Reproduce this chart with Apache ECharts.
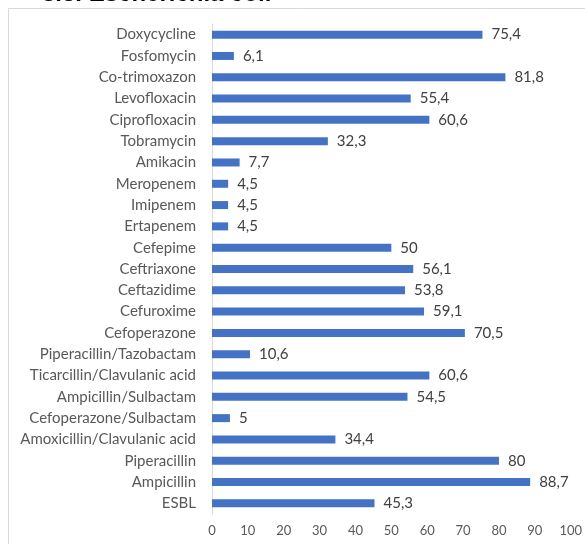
<!DOCTYPE html>
<html>
<head>
<meta charset="utf-8">
<script src="https://cdn.jsdelivr.net/npm/echarts@6/dist/echarts.min.js"></script>
<style>
  html, body { margin: 0; padding: 0; background: #fff; }
  #chart { width: 585px; height: 544px; }
</style>
</head>
<body>
<div id="chart"></div>
<script>
// Antibiotic names, listed top to bottom
const categories = [
  'Doxycycline', 'Fosfomycin', 'Co-trimoxazon', 'Levofloxacin', 'Ciprofloxacin',
  'Tobramycin', 'Amikacin', 'Meropenem', 'Imipenem', 'Ertapenem', 'Cefepime',
  'Ceftriaxone', 'Ceftazidime', 'Cefuroxime', 'Cefoperazone',
  'Piperacillin/Tazobactam', 'Ticarcillin/Clavulanic acid', 'Ampicillin/Sulbactam',
  'Cefoperazone/Sulbactam', 'Amoxicillin/Clavulanic acid', 'Piperacillin',
  'Ampicillin', 'ESBL'
];

// Resistance rate (%) for each antibiotic
const resistance = [
  75.4, 6.1, 81.8, 55.4, 60.6, 32.3, 7.7, 4.5, 4.5, 4.5, 50,
  56.1, 53.8, 59.1, 70.5, 10.6, 60.6, 54.5, 5, 34.4, 80, 88.7, 45.3
];

const xTicks = [0, 10, 20, 30, 40, 50, 60, 70, 80, 90, 100];

const fontFamily = 'Lato, "Liberation Sans", sans-serif';

const chart = echarts.init(document.getElementById('chart'), null, { renderer: 'canvas' });

chart.setOption({
  backgroundColor: '#ffffff',
  animation: false,
  graphic: [
    {
      type: 'rect',
      shape: { x: 8.5, y: 8.5, width: 600, height: 560 },
      style: { fill: 'none', stroke: '#d9d9d9', lineWidth: 1 },
      z: 0
    },
    {
      type: 'text',
      left: 42,
      top: -18,
      style: {
        text: '3.3. Escherichia coli',
        font: 'bold 24px "Liberation Sans", Arial, sans-serif',
        fill: '#000000'
      }
    }
  ],
  grid: { left: 212, right: 14, top: 24, bottom: 30, containLabel: false },
  xAxis: {
    type: 'value',
    min: xTicks[0],
    max: xTicks[xTicks.length - 1],
    interval: 10,
    axisLine: { show: false },
    axisTick: { show: false },
    splitLine: { show: false },
    axisLabel: { color: '#595959', fontSize: 13, fontFamily: fontFamily, margin: 10 }
  },
  yAxis: {
    type: 'category',
    data: categories,
    inverse: true,
    axisLine: { show: true, lineStyle: { color: '#d9d9d9', width: 1 } },
    axisTick: { show: false },
    axisLabel: { color: '#595959', fontSize: 15, fontFamily: fontFamily, margin: 16 }
  },
  series: [{
    type: 'bar',
    data: resistance,
    barWidth: 8,
    itemStyle: { color: '#4472c4' },
    label: {
      show: true,
      position: 'right',
      distance: 9,
      color: '#404040',
      fontSize: 15,
      fontFamily: fontFamily,
      formatter: p => String(p.value).replace('.', ',')
    }
  }]
});
</script>
</body>
</html>
